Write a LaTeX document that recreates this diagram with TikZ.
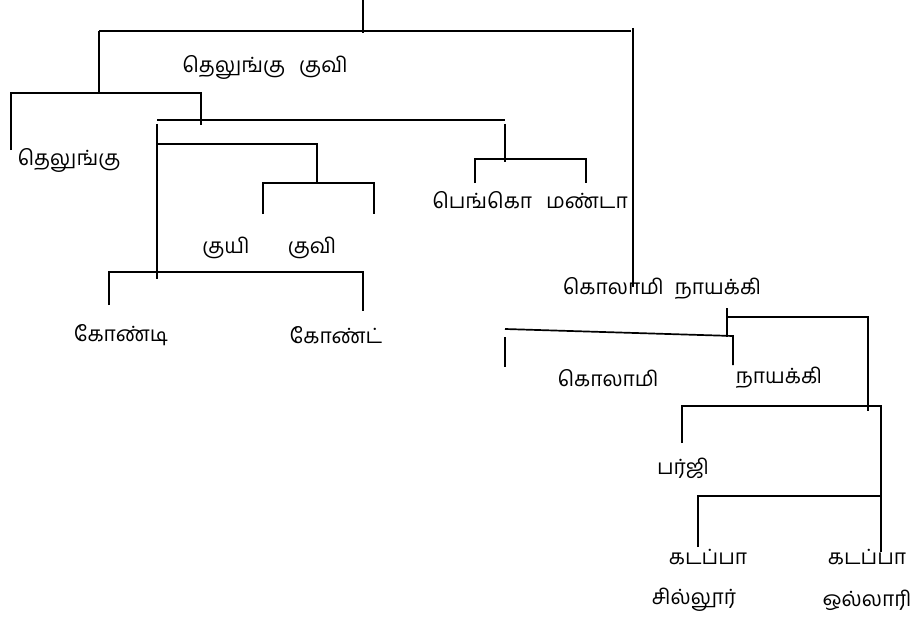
\documentclass[tikz,border=0pt]{standalone}
\usepackage{fontspec}
\newfontfamily\tamilfont[Script=Tamil]{Hind Madurai}
\begin{document}
\begin{tikzpicture}[x=1pt,y=-1pt,
  branch/.style={line width=1.7pt,line cap=butt},
  lbl/.style={font=\tamilfont\fontsize{21}{24}\selectfont,inner sep=0pt}]
\useasboundingbox (0,0) rectangle (914,618);

% language labels
\node[lbl] (telkuvi) at (265,67)  {தெலுங்கு\hspace{14pt}குவி};
\node[lbl] (telugu)  at (69,160)  {தெலுங்கு};
\node[lbl] (pengo)   at (530,200) {பெங்கொ\hspace{14pt}மண்டா};
\node[lbl] (kuyi)    at (226,248) {குயி};
\node[lbl] (kuvi)    at (312,248) {குவி};
\node[lbl] (kondi)   at (121,335) {கோண்டி};
\node[lbl] (kond)    at (336,335) {கோண்ட்};
\node[lbl] (kolnay)  at (662,288) {கொலாமி\hspace{11pt}நாயக்கி};
\node[lbl] (kolami)  at (608,378) {கொலாமி};
\node[lbl] (naikri)  at (779,378) {நாயக்கி};
\node[lbl] (parji)   at (683,468) {பர்ஜி};
\node[lbl] (gadA)    at (708,557) {கடப்பா};
\node[lbl] (gadB)    at (867,557) {கடப்பா};
\node[lbl] (sill)    at (694,600) {சில்லூர்};
\node[lbl] (oll)     at (867,600) {ஒல்லாரி};

% junction points of the tree
\coordinate (r0) at (363,0);   \coordinate (r1) at (363,33);
\coordinate (a0) at (99,31);   \coordinate (a1) at (631,31);
\coordinate (a2) at (633,28);  \coordinate (a3) at (633,287);
\coordinate (b0) at (99,93);
\coordinate (b1) at (11,150);  \coordinate (b2) at (201,93);
\coordinate (b3) at (201,125);
\coordinate (c0) at (157,120); \coordinate (c1) at (505,120);
\coordinate (c2) at (505,124); \coordinate (c3) at (505,162);
\coordinate (c4) at (157,124); \coordinate (c5) at (157,279);
\coordinate (d0) at (157,144); \coordinate (d1) at (317,183);
\coordinate (e0) at (263,214); \coordinate (e1) at (374,214);
\coordinate (f0) at (475,183); \coordinate (f1) at (586,183);
\coordinate (f2) at (475,159);
\coordinate (g0) at (109,305); \coordinate (g1) at (363,311);
\coordinate (g2) at (109,272);
\coordinate (h0) at (505,329); \coordinate (h1) at (733,336);
\coordinate (h2) at (733,365);
\coordinate (h3) at (505,337); \coordinate (h4) at (505,367);
\coordinate (k0) at (727,308); \coordinate (k1) at (727,337);
\coordinate (k2) at (727,317); \coordinate (k3) at (868,411);
\coordinate (m0) at (682,443); \coordinate (m1) at (881,552);
\coordinate (m2) at (682,406);
\coordinate (p0) at (698,547); \coordinate (p1) at (881,496);

% tree lines
\draw[branch] (r0) -- (r1);
\draw[branch] (a0) -- (a1);
\draw[branch] (a2) -- (a3);
\draw[branch] (a0) -- (b0);
\draw[branch] (b1) |- (b2) -- (b3);
\draw[branch] (c0) -- (c1);
\draw[branch] (c2) -- (c3);
\draw[branch] (c4) -- (c5);
\draw[branch] (d0) -| (d1);
\draw[branch] (e0) |- (d1) -| (e1);
\draw[branch] (f0) |- (f2 -| f1) -- (f1);
\draw[branch] (g0) -- (g2) -| (g1);
\draw[branch] (h0) -- (h1) -- (h2);
\draw[branch] (h3) -- (h4);
\draw[branch] (k0) -- (k1);
\draw[branch] (k2) -| (k3);
\draw[branch] (m0) -- (m2) -| (m1);
\draw[branch] (p0) |- (p1);
\end{tikzpicture}
\end{document}
